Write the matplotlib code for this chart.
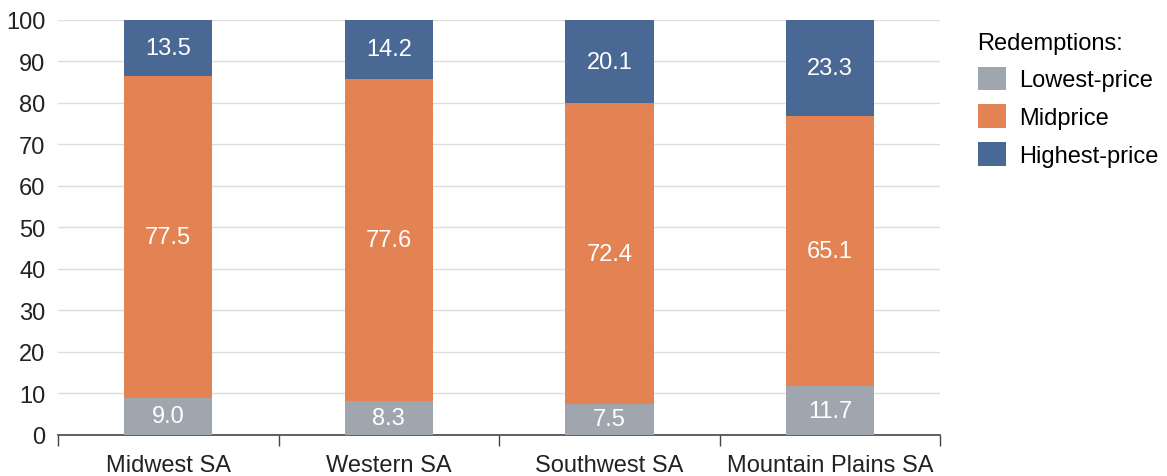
import numpy as np
import matplotlib.pyplot as plt
from matplotlib.patches import Patch

plt.rcParams['font.family'] = ['Liberation Sans', 'DejaVu Sans']

# Participação de cada faixa de preço nas redenções, por região
regioes = ['Midwest SA', 'Western SA', 'Southwest SA', 'Mountain Plains SA']
lowest = [9.0, 8.3, 7.5, 11.7]
mid = [77.5, 77.6, 72.4, 65.1]
highest = [13.5, 14.2, 20.1, 23.3]

series = ['Lowest-price', 'Midprice', 'Highest-price']
cores = ['#a0a6ae', '#e38253', '#4a6894']

fs = 17

fig = plt.figure(figsize=(11.67, 4.77), dpi=100)
ax = fig.add_axes([0.0497, 0.086, 0.756, 0.870])

x = np.arange(len(regioes))
base = np.zeros(len(regioes))
for valores, cor in zip([lowest, mid, highest], cores):
    valores = np.array(valores)
    ax.bar(x, valores, width=0.4, bottom=base, color=cor, zorder=3)
    for xi, b, v in zip(x, base, valores):
        ax.text(xi, b + v / 2, f'{v:.1f}', ha='center', va='center',
                color='white', fontsize=fs, zorder=4)
    base = base + valores

ax.set_xlim(-0.5, len(regioes) - 0.5)
ax.set_ylim(0, 100)
ax.set_yticks(range(0, 101, 10))
ax.set_xticks(x)
ax.set_xticklabels(regioes)
ax.set_xticks(np.arange(-0.5, len(regioes), 1), minor=True)
ax.tick_params(axis='x', which='major', length=0, labelsize=fs, pad=14, colors='#222222')
ax.tick_params(axis='x', which='minor', length=8, width=1, color='#444444', direction='out')
ax.tick_params(axis='y', length=0, labelsize=fs, pad=9, colors='#222222')
ax.grid(axis='y', color='#dddddd', linewidth=1, zorder=0)
for lado in ['top', 'right', 'left']:
    ax.spines[lado].set_visible(False)
ax.spines['bottom'].set_color('#444444')
ax.spines['bottom'].set_linewidth(1.2)

handles = [Patch(facecolor=c, label=s) for s, c in zip(series, cores)]
leg = fig.legend(handles=handles, title='Redemptions:', loc='upper left',
                 bbox_to_anchor=(0.8195, 0.976), frameon=False, fontsize=fs,
                 title_fontsize=fs, handlelength=1.2, handleheight=1.15,
                 handletextpad=0.55, labelspacing=0.55)
leg._legend_box.align = 'left'

plt.savefig('out.png', dpi=100)
